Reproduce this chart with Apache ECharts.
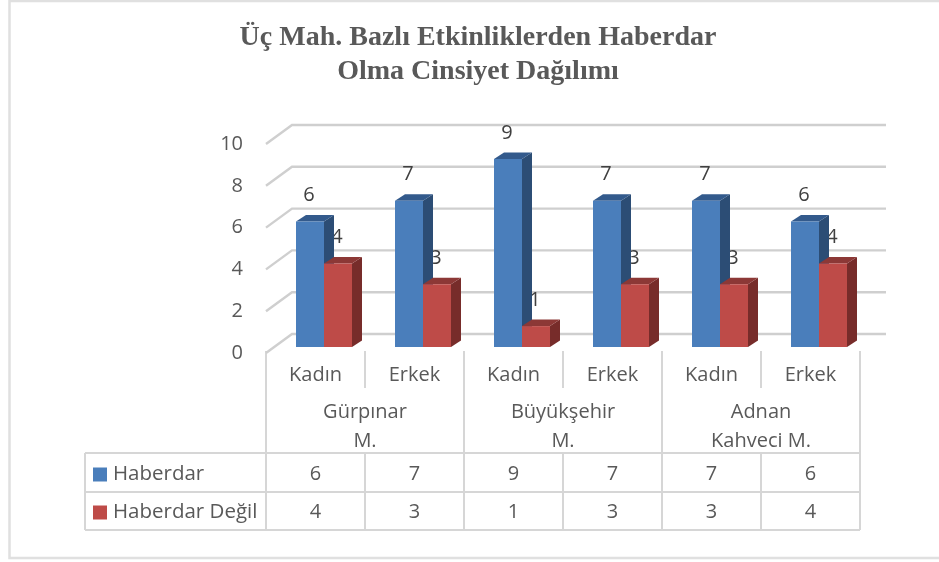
<!DOCTYPE html>
<html>
<head>
<meta charset="utf-8">
<style>html,body{margin:0;padding:0;background:#fff}#c{width:939px;height:562px}</style>
<script src="https://cdn.jsdelivr.net/npm/echarts@6/dist/echarts.min.js"></script>
</head>
<body>
<div id="c"></div>
<script>
const titleText = 'Üç Mah. Bazlı Etkinliklerden Haberdar\nOlma Cinsiyet Dağılımı';
const genders = ['Kadın', 'Erkek', 'Kadın', 'Erkek', 'Kadın', 'Erkek'];
const districts = ['Gürpınar\nM.', 'Büyükşehir\nM.', 'Adnan\nKahveci M.'];
const seriesNames = ['Haberdar', 'Haberdar Değil'];
const haberdar = [6, 7, 9, 7, 7, 6];
const haberdarDegil = [4, 3, 1, 3, 3, 4];
const yTicks = [0, 2, 4, 6, 8, 10];

const GRID = {left: 266, top: 144, width: 594, height: 209};
const BW = 28, DX = 10, DY = 6.5, BAR_SHIFT_X = 8.5, BAR_SHIFT_Y = -6, WALL_X = 26, WALL_Y = -19, WALL_END = 886;
const TXT = '#595959', FONT = '"Open Sans"', LINE = '#d6d6d6';

function bar3d(sign, front, side, top) {
  return function (params, api) {
    const p = api.coord([api.value(0), api.value(1)]);
    const b = api.coord([api.value(0), 0]);
    const cx = p[0] + BAR_SHIFT_X;
    const x0 = sign < 0 ? cx - BW : cx, x1 = x0 + BW;
    const yt = p[1] + BAR_SHIFT_Y, yb = b[1] + BAR_SHIFT_Y;
    return {type: 'group', children: [
      {type: 'polygon', shape: {points: [[x1, yt], [x1 + DX, yt - DY], [x1 + DX, yb - DY], [x1, yb]]}, style: {fill: side}},
      {type: 'polygon', shape: {points: [[x0, yt], [x0 + DX, yt - DY], [x1 + DX, yt - DY], [x1, yt]]}, style: {fill: top}},
      {type: 'rect', shape: {x: x0, y: yt, width: BW, height: yb - yt}, style: {fill: front}}
    ]};
  };
}
function labelItem(sign, nudge) {
  return function (params, api) {
    const p = api.coord([api.value(0), api.value(1)]);
    const cx = p[0] + BAR_SHIFT_X + sign * BW / 2 + nudge;
    return {type: 'text', style: {x: cx, y: p[1] + BAR_SHIFT_Y - 26, text: String(api.value(1)), fill: '#404040',
      font: '20px ' + FONT, textAlign: 'center', textVerticalAlign: 'middle'}};
  };
}
function wallItem(params, api) {
  const p = api.coord([0, api.value(0)]);
  const x0 = GRID.left, y0 = p[1];
  return {type: 'polyline', shape: {points: [[x0, y0], [x0 + WALL_X, y0 + WALL_Y], [WALL_END, y0 + WALL_Y]]},
    style: {fill: null, stroke: '#cfcfcf', lineWidth: 2.4}};
}
function rowAxis(data, offset) {
  return {type: 'category', gridIndex: 0, position: 'bottom', offset, data,
    axisLine: {show: false}, axisTick: {show: false}, splitLine: {show: false},
    axisLabel: {interval: 0, color: TXT, fontFamily: FONT, fontSize: 20, lineHeight: 29, margin: 0}};
}

const tableLines = [];
const hLine = (x1, y, x2) => tableLines.push({type: 'line', shape: {x1, y1: y, x2, y2: y}, style: {stroke: LINE, lineWidth: 2}, silent: true});
const vLine = (x, y1, y2) => tableLines.push({type: 'line', shape: {x1: x, y1, x2: x, y2}, style: {stroke: LINE, lineWidth: 2}, silent: true});
[453, 492, 530].forEach(y => hLine(85, y, 860));
vLine(85, 453, 530);
genders.concat(['']).forEach((_, i) => {
  const x = GRID.left + i * GRID.width / genders.length;
  vLine(x, i % 2 ? 453 : 351, 530);
  if (i % 2) vLine(x, 351, 388);
});
tableLines.push({type: 'polyline', shape: {points: [[939, 1], [9.5, 1], [9.5, 558], [939, 558]]}, style: {fill: null, stroke: '#e0e0e0', lineWidth: 2.5}, silent: true});

const chart = echarts.init(document.getElementById('c'), null, {renderer: 'canvas'});
chart.setOption({
  animation: false,
  backgroundColor: '#fff',
  title: {text: titleText, left: 473, top: 16, textAlign: 'center',
    textStyle: {fontFamily: '"Liberation Serif"', fontWeight: 'bold', fontSize: 28, lineHeight: 34, color: '#595959'}},
  legend: {data: seriesNames, orient: 'vertical', left: 93, top: 464, itemWidth: 14, itemHeight: 14, itemGap: 17,
    icon: 'rect', textStyle: {color: TXT, fontFamily: FONT, fontSize: 20.5, padding: [0, 0, 0, 1]}, padding: 0},
  grid: GRID,
  xAxis: [
    {type: 'category', data: genders, axisLine: {show: false}, axisTick: {show: false},
      axisLabel: {interval: 0, color: TXT, fontFamily: FONT, fontSize: 20, margin: 12}},
    rowAxis(districts, 45),
    rowAxis(haberdar.map(String), 107),
    rowAxis(haberdarDegil.map(String), 145)
  ],
  yAxis: {type: 'value', min: 0, max: 10, interval: 2, axisLine: {show: false}, axisTick: {show: false}, splitLine: {show: false},
    axisLabel: {color: TXT, fontFamily: FONT, fontSize: 20, margin: 23}},
  series: [
    {type: 'custom', name: 'wall', silent: true, z: 1, data: yTicks.map(v => [v]), encode: {y: 0}, renderItem: wallItem},
    {type: 'custom', name: 'lblBlue', silent: true, z: 5, data: haberdar.map((v, i) => [i, v]), encode: {x: 0, y: 1}, renderItem: labelItem(-1, -1)},
    {type: 'custom', name: 'lblRed', silent: true, z: 2, data: haberdarDegil.map((v, i) => [i, v]), encode: {x: 0, y: 1}, renderItem: labelItem(1, -1)},
    {type: 'custom', name: seriesNames[0], z: 3, itemStyle: {color: '#4a7ebb'}, data: haberdar.map((v, i) => [i, v]), encode: {x: 0, y: 1},
      renderItem: bar3d(-1, '#4a7ebb', '#2c4d75', '#335a8c')},
    {type: 'custom', name: seriesNames[1], z: 4, itemStyle: {color: '#be4b48'}, data: haberdarDegil.map((v, i) => [i, v]), encode: {x: 0, y: 1},
      renderItem: bar3d(1, '#be4b48', '#772c2a', '#8c3836')}
  ],
  graphic: tableLines
});
</script>
</body>
</html>
